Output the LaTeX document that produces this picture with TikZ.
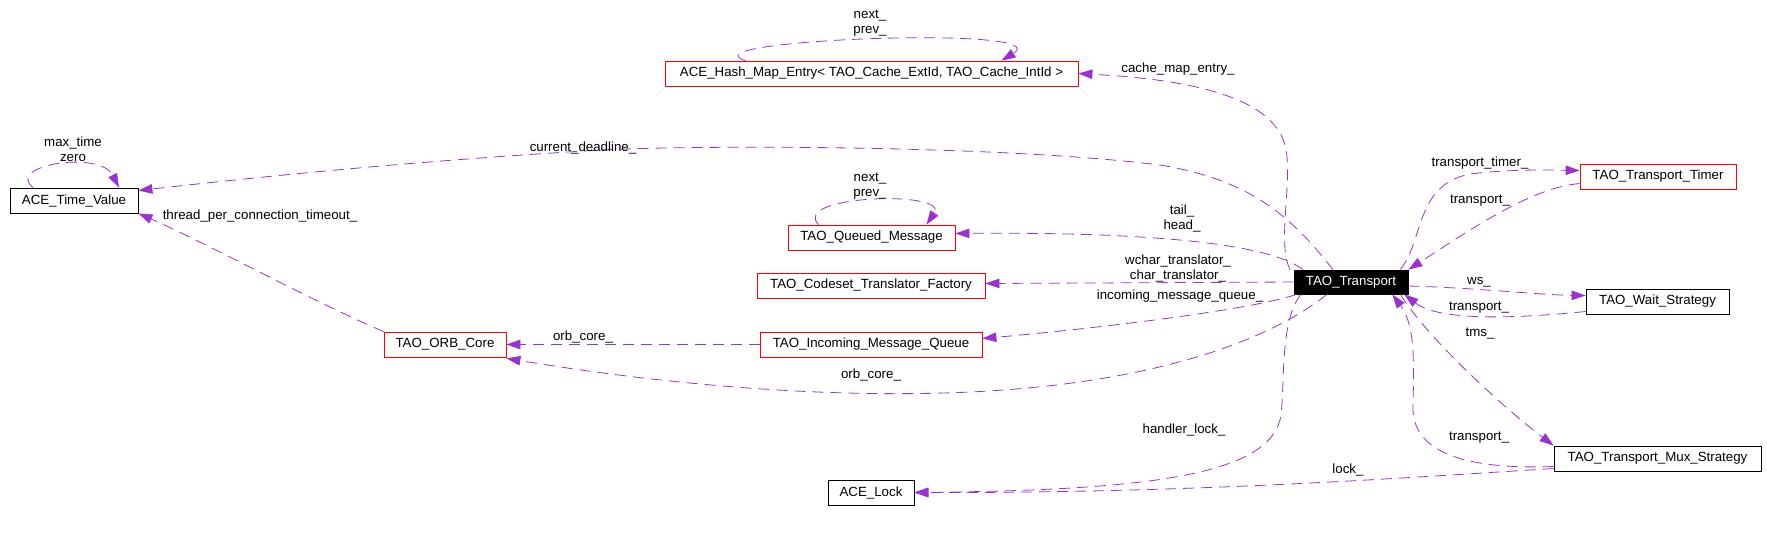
\documentclass[tikz,border=0pt]{standalone}
\usepackage{fontspec}
\setmainfont{Liberation Sans}
\usetikzlibrary{arrows.meta}
\definecolor{edgecol}{HTML}{9A32CD}
\begin{document}
\begin{tikzpicture}[x=1pt,y=-1pt,
  box/.style={draw=black,line width=0.8pt,minimum height=25pt,inner sep=0pt,font=\fontsize{13.3}{15}\selectfont,anchor=center},
  redbox/.style={box,draw=red},
  lbl/.style={font=\fontsize{13.3}{15}\selectfont,align=center,inner sep=0pt},
  edge/.style={draw=edgecol,line width=0.8pt,dash pattern=on 11pt off 7pt,-{Triangle[length=14pt,width=9.5pt]}},
]
\fill[white] (0,0) rectangle (1767,550);
\useasboundingbox (0,0) rectangle (1767,550);

% nodes
\node[box, minimum width=128pt] (tv) at (74,200.5) {ACE\_Time\_Value};
\node[redbox, minimum width=413pt] (hm) at (871.5,73.5) {ACE\_Hash\_Map\_Entry< TAO\_Cache\_ExtId, TAO\_Cache\_IntId >};
\node[redbox, minimum width=167pt] (qm) at (871.5,237.5) {TAO\_Queued\_Message};
\node[redbox, minimum width=228pt] (ctf) at (871,285.5) {TAO\_Codeset\_Translator\_Factory};
\node[redbox, minimum width=222pt] (imq) at (871,344.5) {TAO\_Incoming\_Message\_Queue};
\node[redbox, minimum width=122pt] (orb) at (445,344.5) {TAO\_ORB\_Core};
\node[box, minimum width=114pt, minimum height=24pt, fill=black, text=white] (tr) at (1351,282) {TAO\_Transport};
\node[redbox, minimum width=156pt] (tt) at (1658,176.5) {TAO\_Transport\_Timer};
\node[box, minimum width=143pt] (ws) at (1657.5,301.5) {TAO\_Wait\_Strategy};
\node[box, minimum width=207pt] (mux) at (1657.5,458.5) {TAO\_Transport\_Mux\_Strategy};
\node[box, minimum width=86pt] (lock) at (871,492.5) {ACE\_Lock};

% edges
\draw[edge] ([xshift=-18pt]tr.north) .. controls (1290,215) and (1250,180) .. (1160,165) .. controls (1000,145) and (700,145) .. (600,150) .. controls (400,162) and (250,178) .. ([yshift=10pt]tv.east);
\draw[edge] ([xshift=-61pt]tr.north) .. controls (1278,245) and (1290,195) .. (1287,157) .. controls (1284,100) and (1200,80) .. (hm.east);
\draw[edge] ([xshift=-48pt]tr.north) .. controls (1265,240) and (1120,232) .. ([yshift=4pt]qm.east);
\draw[edge] (tr.west) -- ([yshift=2pt]ctf.east);
\draw[edge] ([xshift=3pt]tr.south west) .. controls (1250,310) and (1100,328) .. ([yshift=6pt]imq.east);
\draw[edge] (imq.west) -- (orb.east);
\draw[edge] ([xshift=-24pt]tr.south) .. controls (1270,340) and (1150,387) .. (944,393) .. controls (800,397) and (650,382) .. ([yshift=-1pt]orb.south east);
\draw[edge] ([xshift=-50pt]tr.south) .. controls (1280,320) and (1285,380) .. (1281,415) .. controls (1272,475) and (1150,490) .. (lock.east);
\draw[edge] ([yshift=-10pt]mux.west) .. controls (1400,478) and (1200,493) .. (lock.east);
\draw[edge] ([xshift=-8pt]tr.north east) .. controls (1424,240) and (1415,185) .. (1470,174) .. controls (1510,169) and (1550,170) .. ([yshift=6pt]tt.west);
\draw[edge] ([yshift=-7pt]tt.west) .. controls (1530,188) and (1470,230) .. (tr.north east);
\draw[edge] ([yshift=-4pt]tr.east) .. controls (1480,288) and (1540,295) .. ([yshift=6pt]ws.west);
\draw[edge] ([yshift=-10pt]ws.west) .. controls (1520,318) and (1440,322) .. ([xshift=-4pt]tr.south east);
\draw[edge] ([xshift=-8pt]tr.south east) .. controls (1425,335) and (1500,405) .. (mux.north west);
\draw[edge] ([yshift=-8pt]mux.west) .. controls (1460,470) and (1412,450) .. (1413,407) .. controls (1414,360) and (1415,325) .. ([xshift=-16pt]tr.south east);
\draw[edge] (orb.north west) .. controls (310,300) and (210,245) .. (tv.south east);
\draw[edge] ([xshift=-41pt]tv.north) .. controls (5,165) and (100,150) .. ([xshift=45pt]tv.north);
\draw[edge] ([xshift=-126pt]hm.north) .. controls (680,40) and (1060,25) .. ([xshift=130pt]hm.north);
\draw[edge] ([xshift=-53pt]qm.north) .. controls (790,195) and (950,190) .. ([xshift=55pt]qm.north);

% labels
\node[lbl] (l1) at (73,149.5) {max\_time\\zero};
\node[lbl] (l2) at (870,23) {next\_\\prev\_};
\node[lbl] (l3) at (870,186.5) {next\_\\prev\_};
\node[lbl] (l4) at (583,148) {current\_deadline\_};
\node[lbl] (l5) at (1178,69) {cache\_map\_entry\_};
\node[lbl] (l6) at (1182,218) {tail\_\\head\_};
\node[lbl] (l7) at (1178,268.5) {wchar\_translator\_\\char\_translator\_};
\node[lbl] (l8) at (1180,296) {incoming\_message\_queue\_};
\node[lbl] (l9) at (583,337) {orb\_core\_};
\node[lbl] (l10) at (871,375) {orb\_core\_};
\node[lbl] (l11) at (260,216) {thread\_per\_connection\_timeout\_};
\node[lbl] (l12) at (1184,430) {handler\_lock\_};
\node[lbl] (l13) at (1348,470) {lock\_};
\node[lbl] (l14) at (1480,163) {transport\_timer\_};
\node[lbl] (l15) at (1480,201) {transport\_};
\node[lbl] (l16) at (1479,282) {ws\_};
\node[lbl] (l17) at (1479,308) {transport\_};
\node[lbl] (l18) at (1480,334) {tms\_};
\node[lbl] (l19) at (1479,438) {transport\_};
\end{tikzpicture}
\end{document}
